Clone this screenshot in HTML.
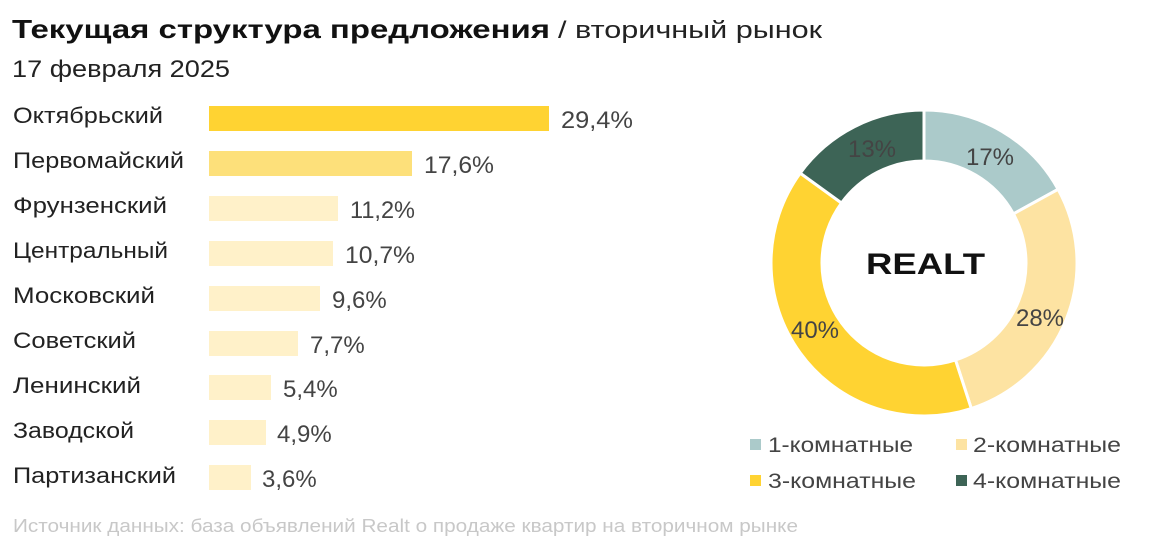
<!DOCTYPE html>
<html><head><meta charset="utf-8"><style>
html,body{margin:0;padding:0;background:#fff;}
svg{display:block;font-family:"Liberation Sans",sans-serif;}
</style></head><body>
<svg width="1152" height="549" viewBox="0 0 1152 549" xmlns="http://www.w3.org/2000/svg">
<text x="12" y="38" font-size="26" font-weight="bold" fill="#111" textLength="538" lengthAdjust="spacingAndGlyphs">Текущая структура предложения</text>
<text x="558" y="38" font-size="24" fill="#222" textLength="264" lengthAdjust="spacingAndGlyphs">/ вторичный рынок</text>
<text x="12" y="77" font-size="24" fill="#222" textLength="218" lengthAdjust="spacingAndGlyphs">17 февраля 2025</text>

<g font-size="22" fill="#222" lengthAdjust="spacingAndGlyphs">
<text x="13" y="123" textLength="150" lengthAdjust="spacingAndGlyphs">Октябрьский</text>
<text x="13" y="168" textLength="171" lengthAdjust="spacingAndGlyphs">Первомайский</text>
<text x="13" y="213" textLength="154" lengthAdjust="spacingAndGlyphs">Фрунзенский</text>
<text x="13" y="258" textLength="155" lengthAdjust="spacingAndGlyphs">Центральный</text>
<text x="13" y="303" textLength="142" lengthAdjust="spacingAndGlyphs">Московский</text>
<text x="13" y="348" textLength="123" lengthAdjust="spacingAndGlyphs">Советский</text>
<text x="13" y="393" textLength="128" lengthAdjust="spacingAndGlyphs">Ленинский</text>
<text x="13" y="438" textLength="121" lengthAdjust="spacingAndGlyphs">Заводской</text>
<text x="13" y="483" textLength="163" lengthAdjust="spacingAndGlyphs">Партизанский</text>
</g>
<rect x="209" y="106" width="340" height="25" fill="#FFD332"/>
<rect x="209" y="151" width="203" height="25" fill="#FDE07A"/>
<rect x="209" y="196" width="129" height="25" fill="#FFF1C9"/>
<rect x="209" y="241" width="124" height="25" fill="#FFF1C9"/>
<rect x="209" y="286" width="111" height="25" fill="#FFF1C9"/>
<rect x="209" y="331" width="89" height="25" fill="#FFF1C9"/>
<rect x="209" y="375" width="62" height="25" fill="#FFF1C9"/>
<rect x="209" y="420" width="57" height="25" fill="#FFF1C9"/>
<rect x="209" y="465" width="42" height="25" fill="#FFF1C9"/>
<g font-size="24" fill="#444">
<text x="561" y="128" textLength="72" lengthAdjust="spacingAndGlyphs">29,4%</text>
<text x="424" y="173" textLength="70" lengthAdjust="spacingAndGlyphs">17,6%</text>
<text x="350" y="218" textLength="65" lengthAdjust="spacingAndGlyphs">11,2%</text>
<text x="345" y="263" textLength="70" lengthAdjust="spacingAndGlyphs">10,7%</text>
<text x="332" y="308">9,6%</text>
<text x="310" y="353">7,7%</text>
<text x="283" y="397">5,4%</text>
<text x="277" y="442">4,9%</text>
<text x="262" y="487">3,6%</text>
</g>

<g stroke="#fff" stroke-width="3">
<path d="M924,110 A153,153 0 0 1 1058.1,189.3 L1013.4,213.9 A102,102 0 0 0 924,161 Z" fill="#ABCACA"/>
<path d="M1058.1,189.3 A153,153 0 0 1 971.3,408.5 L955.5,360 A102,102 0 0 0 1013.4,213.9 Z" fill="#FDE3A2"/>
<path d="M971.3,408.5 A153,153 0 0 1 800.2,173.1 L841.5,203 A102,102 0 0 0 955.5,360 Z" fill="#FFD332"/>
<path d="M800.2,173.1 A153,153 0 0 1 924,110 L924,161 A102,102 0 0 0 841.5,203 Z" fill="#3D6456"/>
</g>
<g font-size="24" fill="#444" text-anchor="middle">
<text x="990" y="165">17%</text>
<text x="1040" y="326">28%</text>
<text x="815" y="338">40%</text>
<text x="872" y="157">13%</text>
</g>
<text x="866" y="274" font-size="30" font-weight="900" fill="#111" textLength="119" lengthAdjust="spacingAndGlyphs">REALT</text>

<g font-size="21" fill="#444">
<rect x="750" y="439" width="11" height="11" fill="#ABCACA"/><text x="768" y="452" textLength="145" lengthAdjust="spacingAndGlyphs">1-комнатные</text>
<rect x="956" y="439" width="11" height="11" fill="#FDE3A2"/><text x="973" y="452" textLength="148" lengthAdjust="spacingAndGlyphs">2-комнатные</text>
<rect x="750" y="475" width="11" height="11" fill="#FFD332"/><text x="768" y="488" textLength="148" lengthAdjust="spacingAndGlyphs">3-комнатные</text>
<rect x="956" y="475" width="11" height="11" fill="#3D6456"/><text x="973" y="488" textLength="148" lengthAdjust="spacingAndGlyphs">4-комнатные</text>
</g>
<text x="13" y="532" font-size="18" fill="#c8c8c8" textLength="785" lengthAdjust="spacingAndGlyphs">Источник данных: база объявлений Realt о продаже квартир на вторичном рынке</text>
</svg>
</body></html>
